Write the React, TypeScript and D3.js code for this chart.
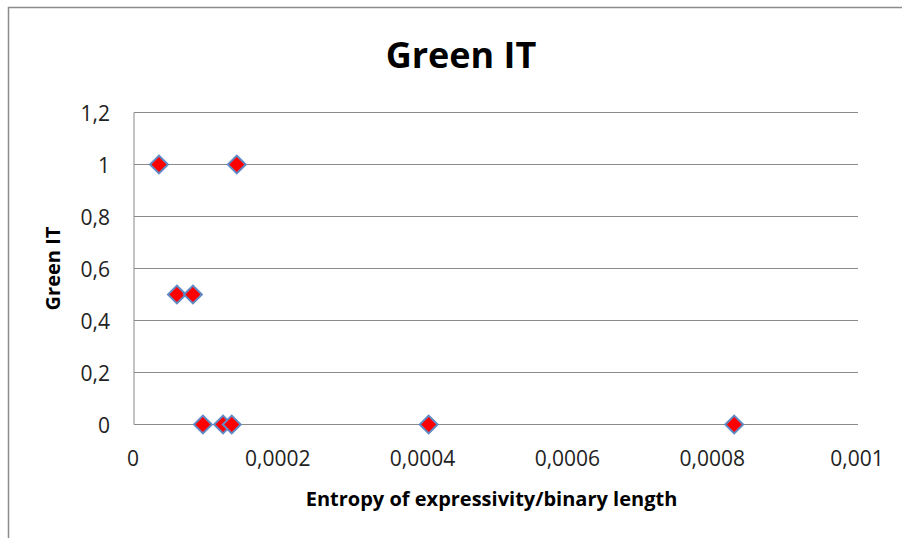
import React from "react";
import * as d3 from "d3";

const xValues = [0.0000345, 0.000142, 0.0000593, 0.0000814, 0.0000952, 0.000123, 0.000135, 0.000407, 0.000829];
const yValues = [1, 1, 0.5, 0.5, 0, 0, 0, 0, 0];
const xTicks = [0, 0.0002, 0.0004, 0.0006, 0.0008, 0.001];
const yTicks = [0, 0.2, 0.4, 0.6, 0.8, 1, 1.2];
const chartTitle = "Green IT";
const xTitle = "Entropy of expressivity/binary length";
const yTitle = "Green IT";

const W = 902;
const H = 538;
const left = 134;
const right = 858;
const top = 112.5;
const bottom = 424.5;
const FONT = "'Open Sans', Lato, sans-serif";

const fmt = (v: number) => {
  if (v === 0) return "0";
  const s = String(+v.toFixed(6));
  return s.replace(".", ",");
};

export default function App() {
  const x = d3.scaleLinear().domain([0, 0.001]).range([left, right]);
  const y = d3.scaleLinear().domain([0, 1.2]).range([bottom, top]);
  const sym = d3.symbol().type(d3.symbolSquare).size(160);
  const points = xValues.map((v, i) => ({ x: v, y: yValues[i] }));
  return (
    <svg width={W} height={H} style={{ position: "absolute", left: 0, top: 0, background: "#fff" }}>
      <rect x={0} y={0} width={W} height={H} fill="#fff" />
      <path d={`M8.5,${H} L8.5,7.5 L${W},7.5`} fill="none" stroke="#8c8c8c" strokeWidth={1.5} />
      <text x={461} y={68} textAnchor="middle" fontFamily={FONT} fontWeight="bold" fontSize={36} fill="#000">
        {chartTitle}
      </text>
      {yTicks.map((t) => (
        <line key={"g" + t} x1={left} x2={right} y1={y(t)} y2={y(t)} stroke="#8a8a8a" strokeWidth={1} />
      ))}
      <line x1={left} x2={left} y1={top} y2={bottom} stroke="#8a8a8a" strokeWidth={1} />
      {yTicks.map((t) => (
        <text key={"yl" + t} x={110} y={y(t) + 8} textAnchor="end" fontFamily={FONT} fontSize={21} fill="#222">
          {fmt(t)}
        </text>
      ))}
      {xTicks.map((t) => (
        <text key={"xl" + t} x={x(t) - 1} y={465.5} textAnchor="middle" fontFamily={FONT} fontSize={21} fill="#222">
          {fmt(t)}
        </text>
      ))}
      <text x={491.5} y={506} textAnchor="middle" fontFamily={FONT} fontWeight="bold" fontSize={20} fill="#000">
        {xTitle}
      </text>
      <text
        transform={`translate(60,${(top + bottom) / 2}) rotate(-90)`}
        textAnchor="middle"
        fontFamily={FONT}
        fontWeight="bold"
        fontSize={20}
        fill="#000"
      >
        {yTitle}
      </text>
      {points.map((p, i) => (
        <path
          key={i}
          d={sym() as string}
          transform={`translate(${x(p.x)},${y(p.y)}) rotate(45)`}
          fill="#ff0000"
          stroke="#5f8ac6"
          strokeWidth={2}
        />
      ))}
    </svg>
  );
}
